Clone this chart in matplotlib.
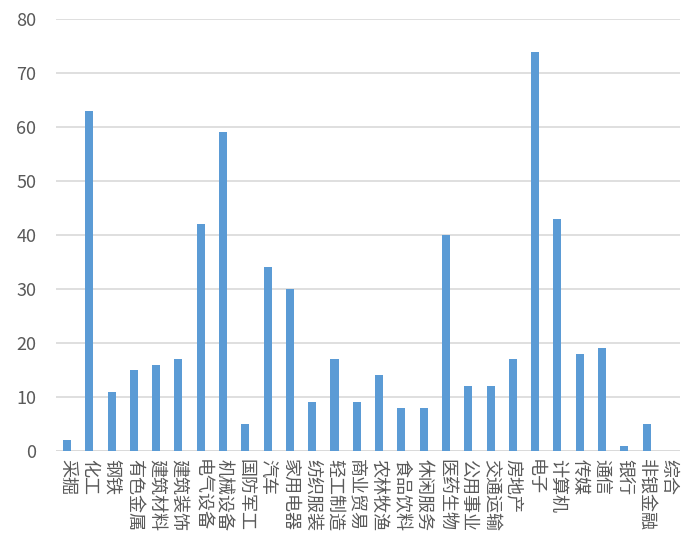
import matplotlib
matplotlib.use('Agg')
import matplotlib.pyplot as plt
import numpy as np

plt.rcParams['font.family'] = ['Noto Sans CJK SC', 'DejaVu Sans']

industries = ['采掘', '化工', '钢铁', '有色金属', '建筑材料', '建筑装饰', '电气设备',
              '机械设备', '国防军工', '汽车', '家用电器', '纺织服装', '轻工制造', '商业贸易',
              '农林牧渔', '食品饮料', '休闲服务', '医药生物', '公用事业', '交通运输', '房地产',
              '电子', '计算机', '传媒', '通信', '银行', '非银金融', '综合']
counts = [2, 63, 11, 15, 16, 17, 42, 59, 5, 34, 30, 9, 17, 9, 14, 8, 8, 40,
          12, 12, 17, 74, 43, 18, 19, 1, 5, 0]

fig = plt.figure(figsize=(6.9, 5.46), dpi=100)
ax = fig.add_axes([0.081, 0.174, 0.9045, 0.791])

x = np.arange(len(industries))
ax.bar(x, counts, width=0.36, color='#5B9BD5', zorder=3)

ax.set_xlim(-0.5, len(industries) - 0.5)
ax.set_ylim(0, 80)
ax.set_yticks(range(0, 81, 10))
ax.yaxis.grid(True, color='#D9D9D9', linewidth=1.2, zorder=0)
for s in ax.spines.values():
    s.set_visible(False)
ax.axhline(0, color='#D9D9D9', linewidth=1.2, zorder=1)

ax.set_xticks(x)
ax.set_xticklabels(industries, rotation=-90, va='top', ha='center',
                   fontsize=13, color='#595959')
ax.tick_params(axis='both', length=0)
ax.tick_params(axis='y', labelsize=13, labelcolor='#595959', pad=14)
ax.tick_params(axis='x', pad=6)

fig.savefig('out.png', dpi=100)
